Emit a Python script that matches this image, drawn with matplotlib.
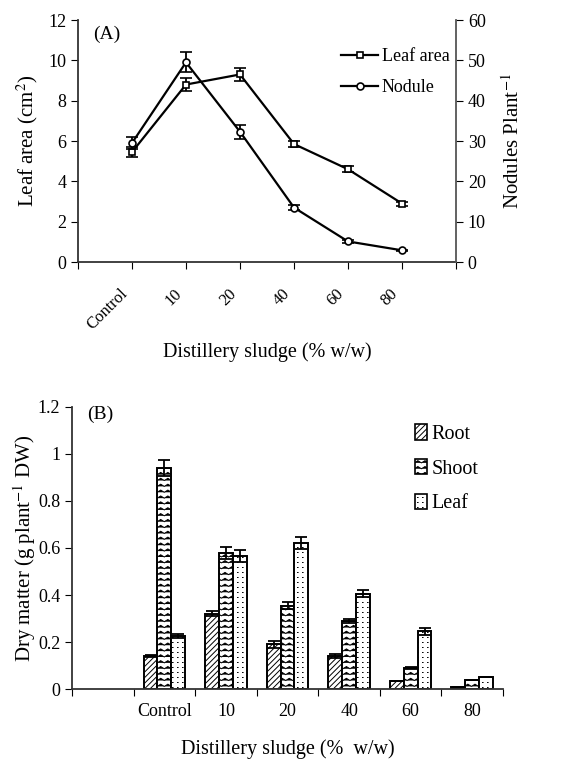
import numpy as np
import matplotlib
matplotlib.use("Agg")
import matplotlib.pyplot as plt
from matplotlib.path import Path
from matplotlib import hatch as mhatch
from matplotlib.patches import Patch
from matplotlib.lines import Line2D
from matplotlib.ticker import FuncFormatter
from matplotlib.transforms import ScaledTranslation
import warnings
warnings.filterwarnings("ignore")

# ---------------- data ----------------
categories = ["Control", "10", "20", "40", "60", "80"]
leaf_area = [5.45, 8.8, 9.3, 5.85, 4.6, 2.9]
leaf_area_err = [0.25, 0.3, 0.3, 0.15, 0.15, 0.1]
nodules = [29.5, 49.5, 32.3, 13.5, 5.1, 2.9]
nodules_err = [1.5, 2.5, 1.7, 0.6, 0.3, 0.2]

root_dm = [0.14, 0.32, 0.19, 0.14, 0.035, 0.01]
root_err = [0.005, 0.01, 0.015, 0.01, 0.0, 0.0]
shoot_dm = [0.94, 0.58, 0.355, 0.29, 0.09, 0.04]
shoot_err = [0.035, 0.025, 0.015, 0.01, 0.005, 0.0]
leaf_dm = [0.225, 0.565, 0.62, 0.405, 0.245, 0.05]
leaf_err = [0.01, 0.025, 0.025, 0.015, 0.015, 0.0]

# ---------------- custom hatches ----------------
class WavyHatch(mhatch.HatchPatternBase):
    periods = 14
    def __init__(self, hatch, density):
        self.num_lines = int(hatch.count('~') * 17)
        self.npts = 2 * self.periods + 1
        self.num_vertices = self.num_lines * self.npts if self.num_lines else 0
    def set_vertices_and_codes(self, vertices, codes):
        xs = np.linspace(0, 1, self.npts)
        n = self.num_lines
        amp = 0.011
        zig = np.where(np.arange(self.npts) % 2 == 0, -amp, amp)
        k = 0
        for i in range(n):
            y0 = (i + 0.5) / n
            vertices[k:k + self.npts, 0] = xs
            vertices[k:k + self.npts, 1] = y0 + zig
            codes[k] = Path.MOVETO
            codes[k + 1:k + self.npts] = Path.LINETO
            k += self.npts


class TinyDots(mhatch.HatchPatternBase):
    def __init__(self, hatch, density):
        self.n = 20 if ':' in hatch else 0
        self.num_vertices = self.n * self.n * 2
    def set_vertices_and_codes(self, vertices, codes):
        n = self.n
        k = 0
        for i in range(n):
            for j in range(n):
                x0 = (i + 0.5) / n
                y0 = (j + 0.5) / n
                vertices[k] = (x0, y0)
                vertices[k + 1] = (x0 + 0.006, y0)
                codes[k] = Path.MOVETO
                codes[k + 1] = Path.LINETO
                k += 2


mhatch._hatch_types.append(WavyHatch)
mhatch._hatch_types.append(TinyDots)

plt.rcParams['font.family'] = ['Liberation Serif', 'DejaVu Serif']
plt.rcParams['mathtext.fontset'] = 'stix'
plt.rcParams['hatch.linewidth'] = 0.7

fig = plt.figure(figsize=(5.70, 7.61), dpi=100)

# ---------------- panel A ----------------
axA = fig.add_axes([0.1368, 0.6557, 0.8000 - 0.1368, 0.9737 - 0.6557])
x = np.arange(1, len(categories) + 1)
axA.errorbar(x, leaf_area, yerr=leaf_area_err, color='black', lw=1.6,
             marker='s', ms=5, mfc='white', mec='black', mew=1.2,
             capsize=4, elinewidth=1.3, capthick=1.3)
axA.set_xlim(0, 7)
axA.set_ylim(0, 12)
axA.set_yticks(np.arange(0, 13, 2))
axA.set_xticks(np.arange(0, 8))
axA.set_xticklabels([""] + categories + [""], rotation=45, ha='right', va='top')
axA.tick_params(axis='x', direction='out', length=5, pad=12, labelsize=12)
axA.tick_params(axis='y', direction='out', length=5, labelsize=13)
off = ScaledTranslation(-12 / 100, 0, fig.dpi_scale_trans)
for lab in axA.get_xticklabels():
    lab.set_rotation_mode('anchor')
    lab.set_transform(lab.get_transform() + off)
axA.spines['top'].set_visible(False)
axA.spines['right'].set_visible(False)
for s in ['left', 'bottom']:
    axA.spines[s].set_linewidth(1.3)
    axA.spines[s].set_color('#333333')
axA.set_ylabel("Leaf area (cm$^{2}$)", fontsize=15, labelpad=6)
axA.set_xlabel("Distillery sludge (% w/w)", fontsize=14.5, labelpad=7)
axA.text(0.04, 0.975, "(A)", transform=axA.transAxes, fontsize=14, va='top')

axA2 = axA.twinx()
axA2.errorbar(x, nodules, yerr=nodules_err, color='black', lw=1.6,
              marker='o', ms=5, mfc='white', mec='black', mew=1.2,
              capsize=4, elinewidth=1.3, capthick=1.3)
axA2.set_ylim(0, 60)
axA2.set_yticks(np.arange(0, 61, 10))
axA2.tick_params(axis='y', direction='out', length=5, labelsize=13)
axA2.spines['top'].set_visible(False)
axA2.spines['left'].set_visible(False)
axA2.spines['bottom'].set_visible(False)
axA2.spines['right'].set_linewidth(1.3)
axA2.spines['right'].set_color('#555555')
axA2.set_ylabel("Nodules Plant$^{-1}$", fontsize=15, labelpad=12)

hA = [Line2D([], [], color='black', lw=1.6, marker='s', ms=5, mfc='white', mec='black', mew=1.2),
      Line2D([], [], color='black', lw=1.6, marker='o', ms=5, mfc='white', mec='black', mew=1.2)]
axA2.legend(hA, ['Leaf area', 'Nodule'], loc='upper left',
            bbox_to_anchor=(0.672, 0.92), frameon=False, fontsize=13,
            handlelength=2.05, handletextpad=0.2, labelspacing=0.75, borderpad=0)

# ---------------- panel B ----------------
axB = fig.add_axes([0.1263, 0.0946, 0.8825 - 0.1263, 0.4652 - 0.0946])
centers = np.arange(1, len(categories) + 1) + 0.5
w = 0.225
ekw = dict(elinewidth=1.3, capthick=1.3, ecolor='black')
axB.bar(centers - w, root_dm, w, yerr=root_err, capsize=4, error_kw=ekw,
        color='white', edgecolor='black', linewidth=1.4, hatch='//////')
axB.bar(centers, shoot_dm, w, yerr=shoot_err, capsize=4, error_kw=ekw,
        color='white', edgecolor='black', linewidth=1.4, hatch='~')
axB.bar(centers + w, leaf_dm, w, yerr=leaf_err, capsize=4, error_kw=ekw,
        color='white', edgecolor='black', linewidth=1.4, hatch=':')
axB.set_xlim(0, 7)
axB.set_ylim(0, 1.2)
axB.set_yticks(np.arange(0, 1.21, 0.2))
axB.yaxis.set_major_formatter(FuncFormatter(lambda v, p: f"{v:.1f}".rstrip('0').rstrip('.') if v else "0"))
axB.set_xticks(np.arange(0, 8))
axB.set_xticklabels([])
axB.set_xticks(centers, minor=True)
axB.set_xticklabels(categories, minor=True)
axB.tick_params(axis='x', which='major', direction='out', length=5)
axB.tick_params(axis='x', which='minor', length=0, pad=10, labelsize=13)
axB.tick_params(axis='y', direction='out', length=5, labelsize=13)
axB.spines['top'].set_visible(False)
axB.spines['right'].set_visible(False)
for s in ['left', 'bottom']:
    axB.spines[s].set_linewidth(1.3)
    axB.spines[s].set_color('#333333')
axB.set_ylabel("Dry matter (g plant$^{-1}$ DW)", fontsize=15, labelpad=0)
axB.set_xlabel("Distillery sludge (%  w/w)", fontsize=14.5, labelpad=14)
axB.text(0.035, 1.005, "(B)", transform=axB.transAxes, fontsize=14, va='top')

handles = [Patch(facecolor='white', edgecolor='black', hatch='//////', lw=1.2),
           Patch(facecolor='white', edgecolor='black', hatch='~', lw=1.2),
           Patch(facecolor='white', edgecolor='black', hatch=':', lw=1.2)]
axB.legend(handles, ['Root', 'Shoot', 'Leaf'], loc='upper left',
           bbox_to_anchor=(0.772, 0.975), frameon=False, fontsize=14.5,
           handlelength=0.6, handleheight=0.8, handletextpad=0.25,
           labelspacing=0.75, borderpad=0)

fig.savefig("out.png", dpi=100)
